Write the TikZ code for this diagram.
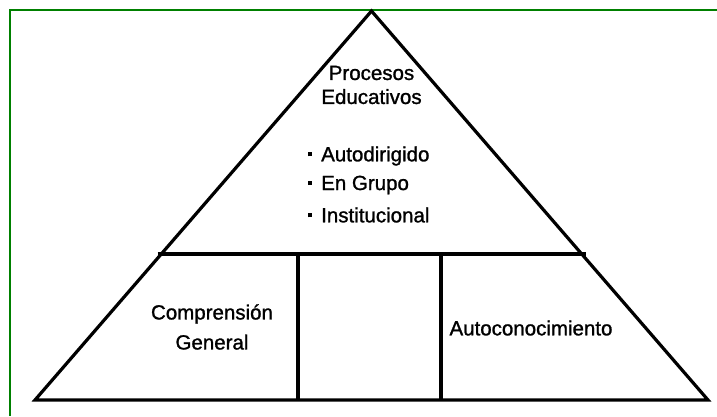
\documentclass[tikz,border=0pt]{standalone}
\usepackage{fontspec}
\setmainfont{Liberation Sans}[FakeBold=1.2]
\usepackage{tikz}

\tikzset{
	lbl/.style={font=\fontsize{20.5}{24}\selectfont,align=center,inner sep=0pt},
	item/.style={font=\fontsize{20.5}{24}\selectfont,anchor=west,inner sep=0pt},
	wall/.style={line width=3.2pt,line join=miter}
}
\newcommand{\dotitem}[1]{\rule[5pt]{4pt}{4pt}\hspace{9pt}#1}

\begin{document}
\begin{tikzpicture}[x=1pt,y=-1pt]
		\useasboundingbox (0,0) rectangle (717,416);
		\fill[white](0,0)rectangle(717,416);
		\draw[green!50!black,line width=2pt](10,416)--(10,10)--(717,10);
		% piramide
		\coordinate (top) at (371.5,11);
		\coordinate (bl) at (35,400);
		\coordinate (br) at (708,400);
		\coordinate (ml) at (157.5,254);
		\coordinate (mr) at (585.5,254);
		\draw[wall](bl)--(top)--(br)--cycle;
		\draw[wall](ml)--(mr);
		\draw[wall](298,254)--(298,400);
		\draw[wall](441,254)--(441,400);
		% textos
		\node[lbl] (proc) at (371.5,85) {Procesos\\Educativos};
		\node[item] (auto) at (308,156) {\dotitem{Autodirigido}};
		\node[item] (grupo) at (308,185) {\dotitem{En Grupo}};
		\node[item] (inst) at (308,215) {\dotitem{Institucional}};
		\node[lbl] (comp) at (212,327) {Comprensión\\[6pt]General};
		\node[lbl] (autoc) at (531,328) {Autoconocimiento};
	\end{tikzpicture}
\end{document}
